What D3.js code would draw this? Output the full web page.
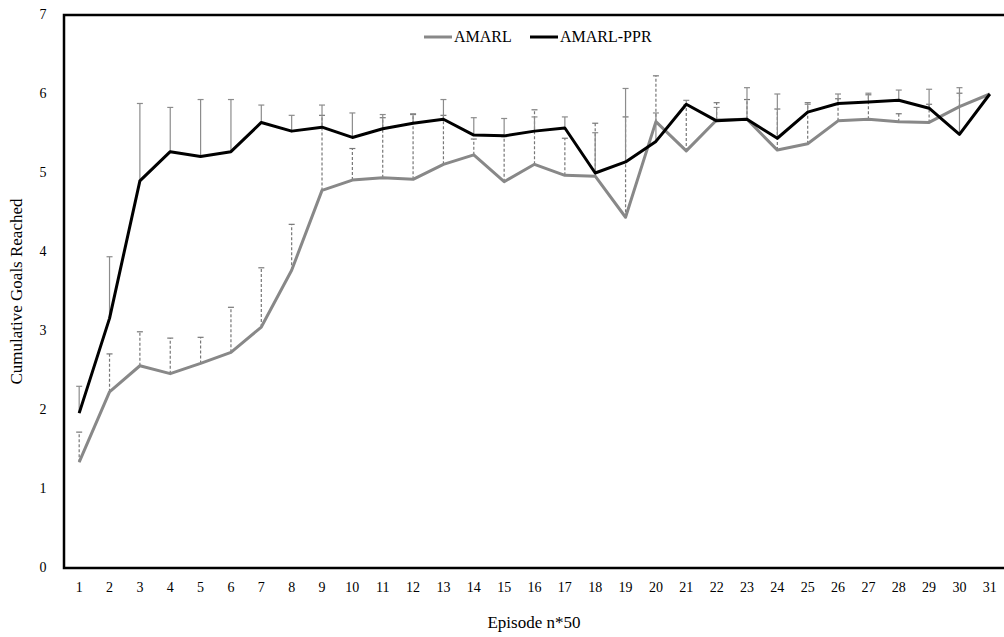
<!DOCTYPE html>
<html>
<head>
<meta charset="utf-8">
<script src="https://cdn.jsdelivr.net/npm/d3@7"></script>
<style>
  html, body { margin: 0; padding: 0; background: #fff; overflow: hidden; }
  svg { display: block; }
  text { font-family: "Liberation Serif", "DejaVu Serif", serif; }
</style>
</head>
<body>
<script>
// episodes (x50)
let episodes = d3.range(1, 32)

let amarl = [1.34, 2.23, 2.56, 2.46, 2.59, 2.73, 3.05, 3.77, 4.78, 4.91,
             4.94, 4.92, 5.11, 5.23, 4.89, 5.11, 4.97, 4.96, 4.44, 5.65,
             5.28, 5.67, 5.68, 5.29, 5.37, 5.66, 5.68, 5.65, 5.64, 5.84, 6.0]
let amarlTop = [1.72, 2.71, 2.99, 2.91, 2.92, 3.30, 3.80, 4.35, 5.73, 5.31,
                5.70, 5.74, 5.73, 5.43, 5.46, 5.80, 5.44, 5.63, 5.71, 6.23,
                5.86, 5.89, 5.93, 5.81, 5.89, 5.94, 5.99, 5.75, 5.87, 6.01, null]

let ppr = [1.96, 3.16, 4.90, 5.27, 5.21, 5.27, 5.64, 5.53, 5.58, 5.45,
           5.56, 5.63, 5.68, 5.48, 5.47, 5.53, 5.57, 5.00, 5.14, 5.40,
           5.87, 5.66, 5.68, 5.44, 5.77, 5.88, 5.90, 5.92, 5.82, 5.49, 6.0]
let pprTop = [2.30, 3.94, 5.88, 5.83, 5.93, 5.93, 5.86, 5.73, 5.86, 5.76,
              5.74, 5.75, 5.93, 5.70, 5.69, 5.71, 5.71, 5.51, 6.07, 5.76,
              5.92, 5.83, 6.08, 6.00, 5.87, 6.00, 6.01, 6.05, 6.06, 6.08, null]

let yTicks = [0, 1, 2, 3, 4, 5, 6, 7]

let width = 1004, height = 637
let plotLeft = 64, plotRight = 1005, plotTop = 15, plotBottom = 568

let svg = d3.select("body")
    .append("svg")
    .attr("width", width)
    .attr("height", height)

let x = d3.scaleBand()
    .domain(episodes)
    .range([plotLeft, plotRight])

let y = d3.scaleLinear()
    .domain([0, 7])
    .range([plotBottom, plotTop])

let cx = d => x(d) + x.bandwidth() / 2

// frame: left, top, bottom (open on the right)
svg.append("path")
    .attr("d", `M${width + 5},${plotTop}H${plotLeft}V${plotBottom}H${width + 5}`)
    .attr("fill", "none")
    .attr("stroke", "#000")
    .attr("stroke-width", 2.5)

// tick labels
svg.selectAll(".ylab").data(yTicks).enter().append("text")
    .attr("x", 43)
    .attr("y", d => y(d) + 4)
    .attr("text-anchor", "middle")
    .attr("font-size", 14)
    .text(d => d)

svg.selectAll(".xlab").data(episodes).enter().append("text")
    .attr("x", d => cx(d))
    .attr("y", 592)
    .attr("text-anchor", "middle")
    .attr("font-size", 14)
    .text(d => d)

// axis titles
svg.append("text")
    .attr("x", 534)
    .attr("y", 628)
    .attr("text-anchor", "middle")
    .attr("font-size", 17)
    .text("Episode n*50")

svg.append("text")
    .attr("transform", `translate(22,${(plotTop + plotBottom) / 2}) rotate(-90)`)
    .attr("text-anchor", "middle")
    .attr("font-size", 17)
    .text("Cumulative Goals Reached")

function errorBars(vals, tops, dashed) {
    let data = episodes.map((e, i) => ({e: e, v: vals[i], t: tops[i]}))
                       .filter(d => d.t != null)
    let g = svg.append("g")
        .attr("stroke", dashed ? "#777" : "#8c8c8c")
        .attr("stroke-width", 1.2)
    g.selectAll("line.v").data(data).enter().append("line")
        .attr("x1", d => cx(d.e)).attr("x2", d => cx(d.e))
        .attr("y1", d => y(d.v)).attr("y2", d => y(d.t))
        .attr("stroke-dasharray", dashed ? "3,2" : null)
    g.selectAll("line.c").data(data).enter().append("line")
        .attr("x1", d => cx(d.e) - 3).attr("x2", d => cx(d.e) + 3)
        .attr("y1", d => y(d.t)).attr("y2", d => y(d.t))
}

errorBars(amarl, amarlTop, true)
errorBars(ppr, pprTop, false)

let line = d3.line()
    .x((d, i) => cx(episodes[i]))
    .y(d => y(d))

svg.append("path")
    .attr("d", line(amarl))
    .attr("fill", "none")
    .attr("stroke", "#888")
    .attr("stroke-width", 3)
    .attr("stroke-linejoin", "round")

svg.append("path")
    .attr("d", line(ppr))
    .attr("fill", "none")
    .attr("stroke", "#000")
    .attr("stroke-width", 3)
    .attr("stroke-linejoin", "round")

// legend
let legend = [{name: "AMARL", color: "#888", x: 424}, {name: "AMARL-PPR", color: "#000", x: 530}]
legend.forEach(l => {
    svg.append("line")
        .attr("x1", l.x).attr("x2", l.x + 28)
        .attr("y1", 37).attr("y2", 37)
        .attr("stroke", l.color)
        .attr("stroke-width", 3)
    svg.append("text")
        .attr("x", l.x + 30)
        .attr("y", 42)
        .attr("font-size", 16)
        .text(l.name)
})
</script>
</body>
</html>
